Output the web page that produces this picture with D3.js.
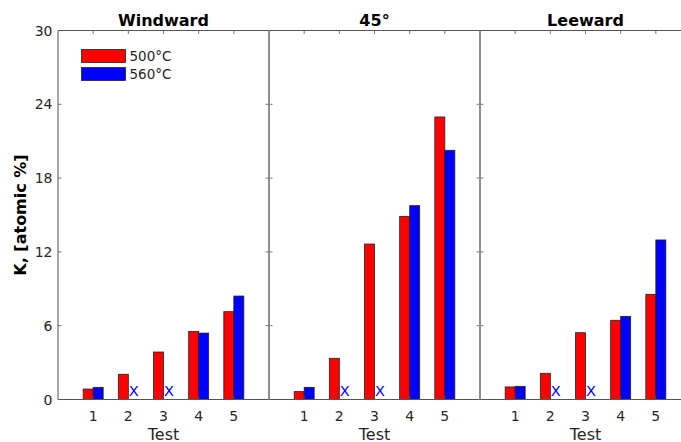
<!DOCTYPE html>
<html><head><meta charset="utf-8">
<script src="https://cdn.jsdelivr.net/npm/d3@7"></script>
<style>body{margin:0;background:#fff;overflow:hidden}svg{display:block}text{font-family:"DejaVu Sans",Verdana,sans-serif}</style>
</head><body>
<svg id="c" width="681" height="442"></svg>
<script>
const panels = ["Windward", "45°", "Leeward"];
const tests = [1, 2, 3, 4, 5];
const seriesNames = ["500°C", "560°C"];
const colors = ["#ff0000", "#0000ff"];
const red500 = [
  [0.85, 2.05, 3.86, 5.54, 7.14],
  [0.64, 3.35, 12.64, 14.89, 22.97],
  [1.02, 2.13, 5.43, 6.44, 8.55]
];
const blue560 = [
  [0.99, null, null, 5.40, 8.41],
  [0.99, null, null, 15.76, 20.26],
  [1.07, null, null, 6.76, 12.97]
];
const yTicks = [0, 6, 12, 18, 24, 30];
const missingMark = 0.7;

const svg = d3.select("#c");
const plotTop = 30.5, plotBottom = 399.5, left0 = 58, pw = 211;
const y = d3.scaleLinear().domain([0, 30]).range([plotBottom, plotTop]);
const axisCol = "#555";
const txtCol = "#262626";
const bw = 10;

panels.forEach((name, p) => {
  const x0 = left0 + p * pw;
  const x = d3.scaleLinear().domain([0, 6]).range([x0, x0 + pw]);
  const g = svg.append("g");
  tests.forEach((t, i) => {
    const vals = [red500[p][i], blue560[p][i]];
    vals.forEach((v, s) => {
      const xl = s === 0 ? x(t) - bw : x(t);
      if (v === null) {
        g.append("text").attr("x", xl + bw / 2 + 0.5).attr("y", y(missingMark) + 5.5)
          .attr("text-anchor", "middle").attr("font-size", 14.5).attr("fill", colors[1]).text("X");
      } else {
        g.append("rect").attr("x", xl).attr("y", y(v)).attr("width", bw).attr("height", y(0) - y(v))
          .attr("fill", colors[s]).attr("stroke", "#222").attr("stroke-width", 0.8);
      }
    });
  });
  tests.forEach(t => {
    g.append("text").attr("x", x(t)).attr("y", 421).attr("text-anchor", "middle")
      .attr("font-size", 14).attr("fill", txtCol).text(t);
    g.append("line").attr("x1", x(t)).attr("x2", x(t)).attr("y1", plotTop).attr("y2", plotTop + 3.5)
      .attr("stroke", axisCol).attr("stroke-width", 0.8);
    g.append("line").attr("x1", x(t)).attr("x2", x(t)).attr("y1", plotBottom).attr("y2", plotBottom - 3.5)
      .attr("stroke", axisCol).attr("stroke-width", 0.8);
  });
  yTicks.forEach(v => {
    g.append("line").attr("x1", x0).attr("x2", x0 + 3.5).attr("y1", y(v)).attr("y2", y(v))
      .attr("stroke", axisCol).attr("stroke-width", 0.8);
    g.append("line").attr("x1", x0 + pw).attr("x2", x0 + pw - 3.5).attr("y1", y(v)).attr("y2", y(v))
      .attr("stroke", axisCol).attr("stroke-width", 0.8);
  });
  g.append("line").attr("x1", x0).attr("x2", x0 + pw).attr("y1", plotTop).attr("y2", plotTop).attr("stroke", axisCol).attr("stroke-width", 1);
  g.append("line").attr("x1", x0).attr("x2", x0 + pw).attr("y1", plotBottom).attr("y2", plotBottom).attr("stroke", axisCol).attr("stroke-width", 1);
  g.append("line").attr("x1", x0).attr("x2", x0).attr("y1", plotTop).attr("y2", plotBottom)
    .attr("stroke", p === 0 ? axisCol : "#8a8a8a").attr("stroke-width", p === 0 ? 1 : 1.6);
  g.append("line").attr("x1", x0 + pw).attr("x2", x0 + pw).attr("y1", plotTop).attr("y2", plotBottom)
    .attr("stroke", "#8a8a8a").attr("stroke-width", 1.6);
  g.append("text").attr("x", x(3)).attr("y", 26).attr("text-anchor", "middle")
    .attr("font-size", 16).attr("font-weight", "bold").attr("fill", "#000").text(name);
  g.append("text").attr("x", x(3)).attr("y", 439.5).attr("text-anchor", "middle")
    .attr("font-size", 16).attr("fill", txtCol).text("Test");
});

yTicks.forEach(v => {
  svg.append("text").attr("x", 52.5).attr("y", y(v) + 5).attr("text-anchor", "end")
    .attr("font-size", 14).attr("fill", txtCol).text(v);
});
svg.append("text").attr("transform", "translate(26,215) rotate(-90)").attr("text-anchor", "middle")
  .attr("font-size", 16).attr("font-weight", "bold").attr("fill", "#000").text("K, [atomic %]");

seriesNames.forEach((n, i) => {
  const yy = 49.5 + i * 18;
  svg.append("rect").attr("x", 81.5).attr("y", yy).attr("width", 44).attr("height", 13)
    .attr("fill", colors[i]).attr("stroke", "#222").attr("stroke-width", 0.8);
  svg.append("text").attr("x", 129.5).attr("y", yy + 11.5).attr("font-size", 13.5).attr("fill", txtCol).text(n);
});
</script>
</body></html>
